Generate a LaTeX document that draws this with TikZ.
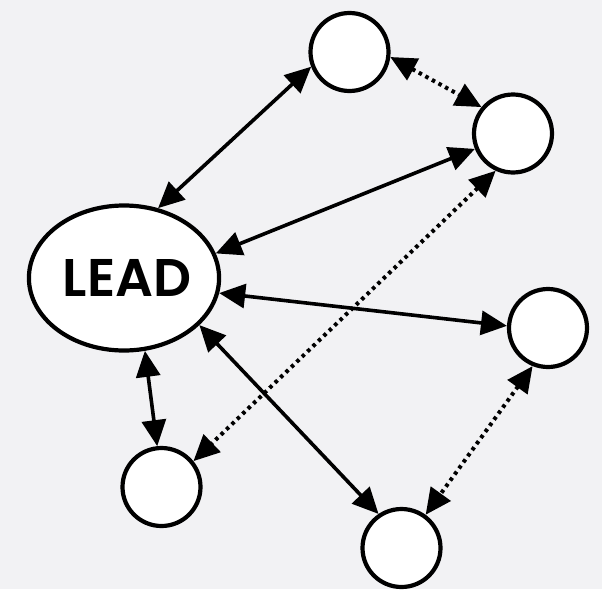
\documentclass[tikz,border=0pt]{standalone}
\usepackage{fontspec}
\setmainfont{Poppins}
\newfontfamily\leadfont{Poppins SemiBold}
\usetikzlibrary{arrows.meta,shapes.geometric}
\definecolor{bgpaper}{RGB}{242,242,244}
\begin{document}
\begin{tikzpicture}[x=1pt,y=-1pt,
	tip/.style={arrows={Triangle[length=26pt,width=24pt]-Triangle[length=26pt,width=24pt]}},
	follower/.style={circle,draw,line width=4.2pt,fill=white,minimum size=78pt,inner sep=0pt},
	link/.style={tip,line width=3.6pt},
	gossip/.style={tip,line width=4pt,dash pattern=on 3.5pt off 4pt}]
	\path[fill=bgpaper,use as bounding box] (0,0) rectangle (602,589);
	\node[ellipse,draw,line width=4.2pt,fill=white,minimum width=188pt,minimum height=145pt,inner sep=0pt,font=\fontsize{53}{53}\leadfont] (lead) at (124,278) {\hspace{6pt}LEAD};
	\node[follower] (f1) at (349.5,52) {};
	\node[follower] (f2) at (513,133.5) {};
	\node[follower] (f3) at (548,328) {};
	\node[follower] (f4) at (401.5,548) {};
	\node[follower] (f5) at (161.5,487) {};
	\draw[link] (lead.64) -- (f1.201);
	\draw[gossip] (f1.-7) -- (f2.140);
	\draw[link] (lead.15) -- (f2.202);
	\draw[gossip] (f2.245) -- (f5.39);
	\draw[link] (lead.-9) -- (f3.177);
	\draw[gossip] (f3.248) -- (f4.54);
	\draw[link] (lead.-32) -- (f4.124);
	\draw[link] (lead.-74) -- (f5.96);
\end{tikzpicture}
\end{document}
